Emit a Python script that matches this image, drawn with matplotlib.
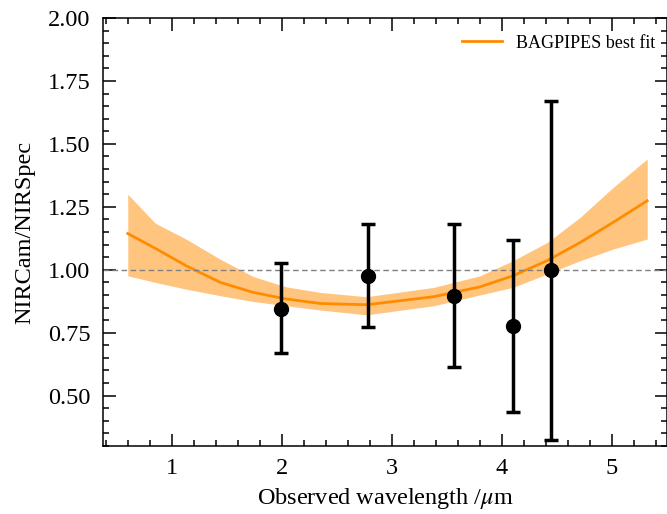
import numpy as np
import matplotlib
matplotlib.use("Agg")
import matplotlib.pyplot as plt
from matplotlib.ticker import MultipleLocator, FormatStrFormatter

# photometric ratios (NIRCam / NIRSpec)
phot_wav = [1.99, 2.78, 3.56, 4.10, 4.45]
phot_ratio = [0.845, 0.975, 0.897, 0.777, 0.998]
err_lo = [0.175, 0.202, 0.283, 0.342, 0.675]
err_hi = [0.180, 0.205, 0.283, 0.343, 0.672]

# BAGPIPES best-fit calibration curve and 1-sigma band
fit_wav = [0.6, 0.85, 1.13, 1.44, 1.74, 2.04, 2.35, 2.77, 3.38, 3.8, 4.1, 4.41, 4.71, 5.01, 5.32]
fit_med = [1.144, 1.085, 1.016, 0.95, 0.91, 0.884, 0.866, 0.861, 0.893, 0.932, 0.976, 1.036, 1.108, 1.188, 1.274]
fit_upper = [1.30, 1.185, 1.122, 1.042, 0.973, 0.932, 0.91, 0.893, 0.93, 0.976, 1.036, 1.108, 1.208, 1.327, 1.44]
fit_lower = [0.976, 0.95, 0.923, 0.897, 0.874, 0.857, 0.84, 0.821, 0.857, 0.9, 0.93, 0.983, 1.036, 1.082, 1.122]

plt.rcParams["font.family"] = ["Liberation Serif", "DejaVu Serif"]
plt.rcParams["mathtext.fontset"] = "stix"

fig = plt.figure(figsize=(6.67, 5.14), dpi=100)
ax = fig.add_axes([103 / 667, 68 / 514, 564 / 667, 428 / 514])

ax.fill_between(fit_wav, fit_lower, fit_upper, color="darkorange", alpha=0.5, lw=0)
ax.plot(fit_wav, fit_med, color="darkorange", lw=2, label="BAGPIPES best fit")
ax.axhline(1.0, color="gray", ls="--", lw=1, dashes=(4, 2.5))
ax.errorbar(phot_wav, phot_ratio, yerr=[err_lo, err_hi], fmt="o", color="black",
            ms=10, elinewidth=2.5, capsize=5, capthick=2.5, zorder=5)

ax.set_xlim(0.375, 5.5)
ax.set_ylim(0.3, 2.0)
ax.xaxis.set_major_locator(MultipleLocator(1))
ax.xaxis.set_minor_locator(MultipleLocator(0.2))
ax.yaxis.set_major_locator(MultipleLocator(0.25))
ax.yaxis.set_minor_locator(MultipleLocator(0.05))
ax.yaxis.set_major_formatter(FormatStrFormatter("%.2f"))
ax.tick_params(which="both", direction="in", top=True, right=True, labelsize=17.5)
ax.tick_params(which="major", length=9, width=1.1, pad=9)
ax.tick_params(which="minor", length=4.5, width=1.1)
for s in ax.spines.values():
    s.set_linewidth(1.1)

ax.set_xlabel(r"Observed wavelength /$\mu$m", fontsize=17.5, labelpad=5)
ax.set_ylabel("NIRCam/NIRSpec", fontsize=17.5, labelpad=9)
ax.legend(loc="upper right", frameon=False, fontsize=13, handlelength=2.2,
          bbox_to_anchor=(1.008, 0.999))

fig.savefig("out.png", dpi=100)
